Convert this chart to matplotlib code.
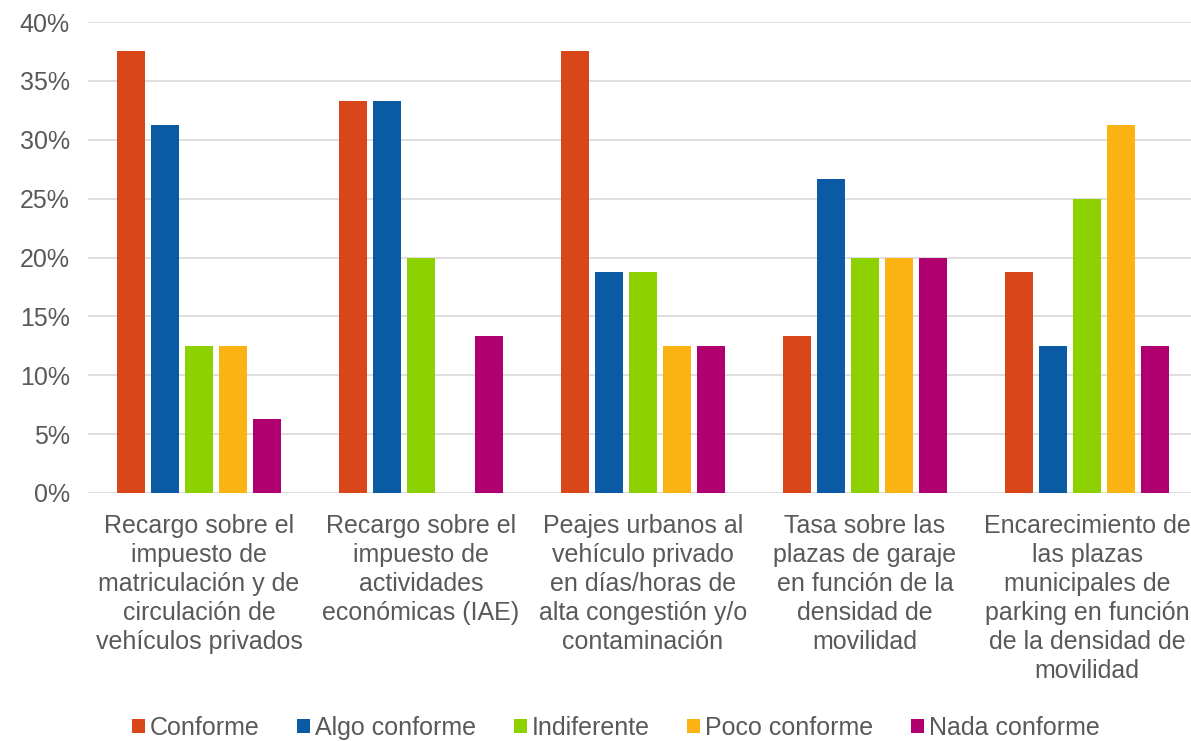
import matplotlib
matplotlib.use("Agg")
import matplotlib.pyplot as plt
import numpy as np
from matplotlib.ticker import FuncFormatter

categories = [
    "Recargo sobre el\nimpuesto de\nmatriculación y de\ncirculación de\nvehículos privados",
    "Recargo sobre el\nimpuesto de\nactividades\neconómicas (IAE)",
    "Peajes urbanos al\nvehículo privado\nen días/horas de\nalta congestión y/o\ncontaminación",
    "Tasa sobre las\nplazas de garaje\nen función de la\ndensidad de\nmovilidad",
    "Encarecimiento de\nlas plazas\nmunicipales de\nparking en función\nde la densidad de\nmovilidad",
]
series_names = ["Conforme", "Algo conforme", "Indiferente", "Poco conforme", "Nada conforme"]
conforme = [0.375, 0.3333, 0.375, 0.1333, 0.1875]
algo_conforme = [0.3125, 0.3333, 0.1875, 0.2667, 0.125]
indiferente = [0.125, 0.20, 0.1875, 0.20, 0.25]
poco_conforme = [0.125, 0.0, 0.125, 0.20, 0.3125]
nada_conforme = [0.0625, 0.1333, 0.125, 0.20, 0.125]
colors = ["#D9461A", "#0A5BA3", "#8DD100", "#FBB313", "#B0006F"]

series = [conforme, algo_conforme, indiferente, poco_conforme, nada_conforme]

plt.rcParams['font.family'] = ['Liberation Sans', 'DejaVu Sans']
W, H = 1191, 741
fig = plt.figure(figsize=(W / 100, H / 100), dpi=100)
ax = fig.add_axes([88 / W, 1 - 493 / H, (1198 - 88) / W, (493 - 22) / H])

x = np.arange(len(categories))
step = 0.153
width = 0.126
for i, (vals, name, c) in enumerate(zip(series, series_names, colors)):
    ax.bar(x + (i - 2) * step, vals, width, color=c, label=name, zorder=3)

ax.set_xlim(-0.5, len(categories) - 0.5)
ax.set_ylim(0, 0.40)
ax.set_yticks(np.arange(0, 0.401, 0.05))
ax.yaxis.set_major_formatter(FuncFormatter(lambda v, p: f"{v*100:.0f}%"))
ax.grid(axis='y', color='#D9D9D9', linewidth=1.2, zorder=0)
for s in ax.spines.values():
    s.set_visible(False)
ax.tick_params(axis='both', length=0, colors='#595959')
ax.tick_params(axis='y', labelsize=18, pad=13)
ax.set_xticks(x)
ax.set_xticklabels(categories, fontsize=18, color='#595959', linespacing=1.27)
ax.tick_params(axis='x', pad=15)

leg = fig.legend(loc='center', bbox_to_anchor=(616 / W, 1 - 728 / H), ncol=5,
                 frameon=False, fontsize=18, handlelength=0.52, handleheight=0.52,
                 handletextpad=0.2, columnspacing=1.5)
for t in leg.get_texts():
    t.set_color('#595959')

fig.savefig("out.png", dpi=100)
